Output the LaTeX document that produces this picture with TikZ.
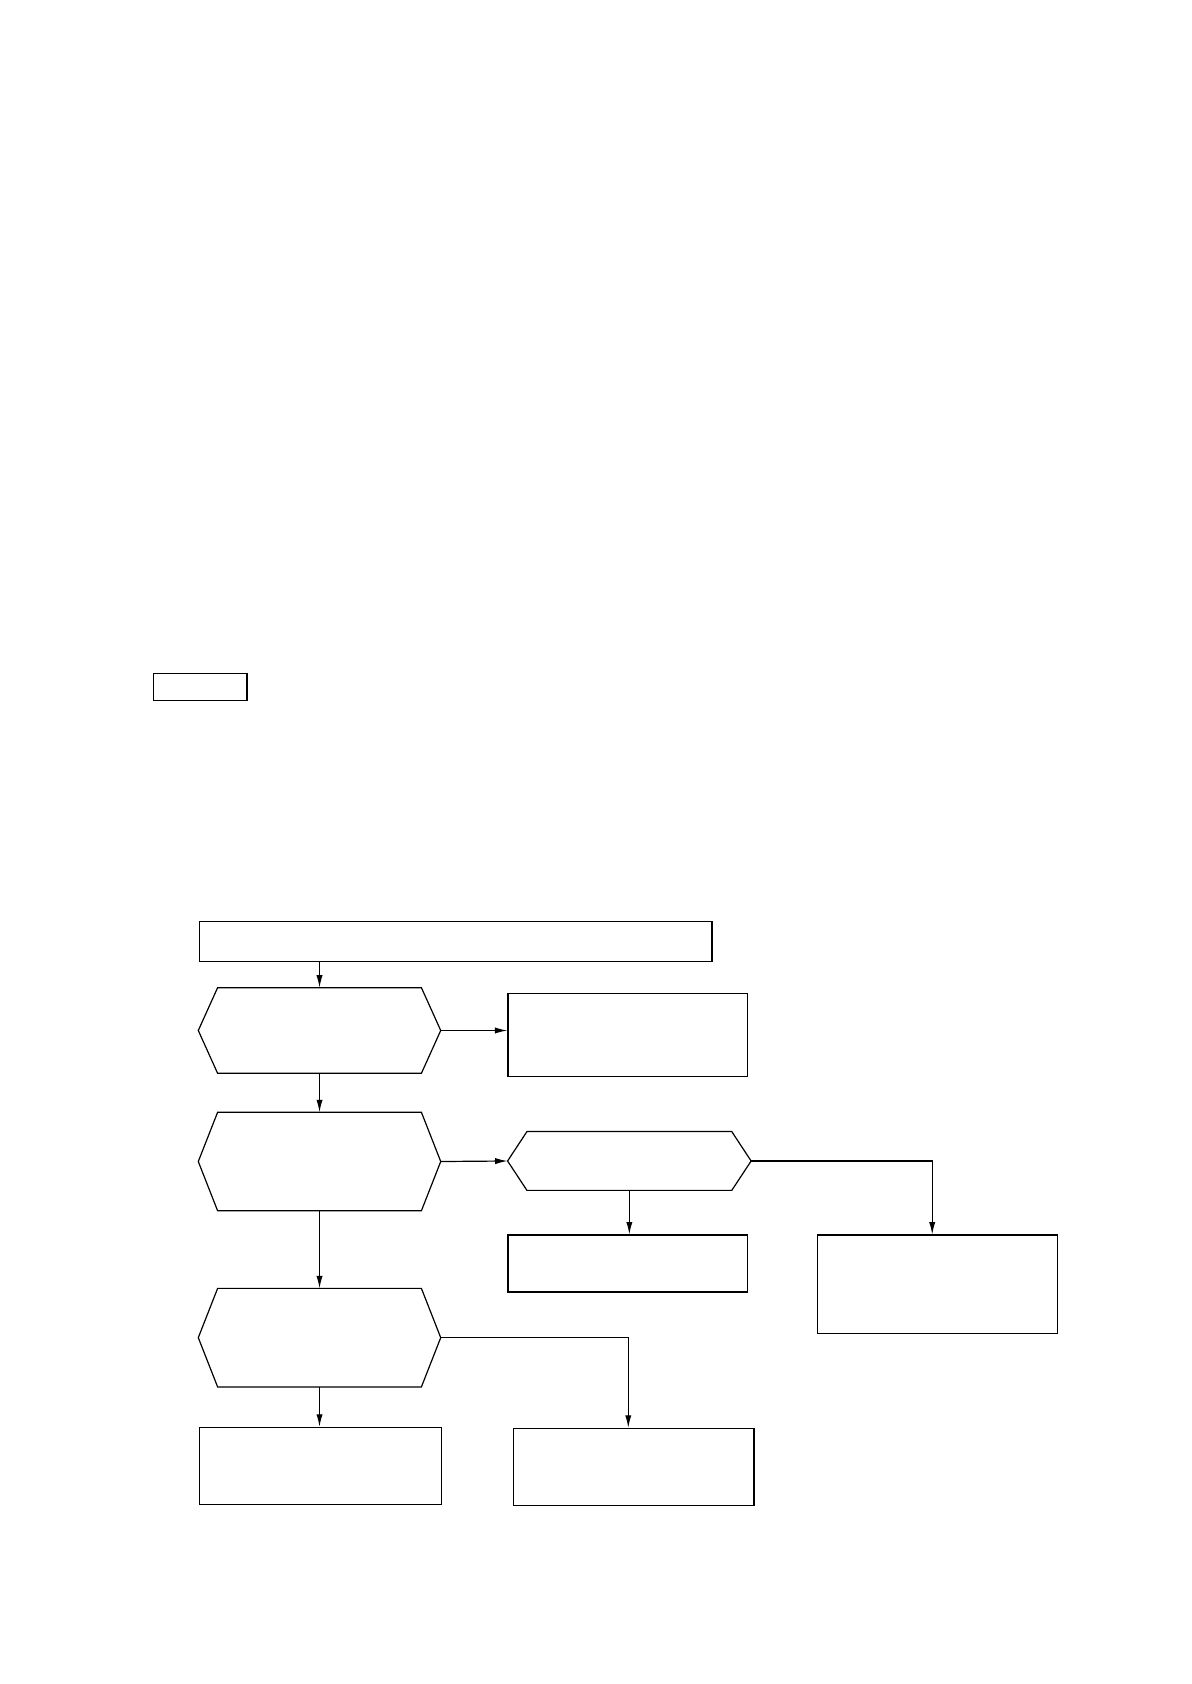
\documentclass[tikz,border=0pt]{standalone}
\usepackage{tikz}
\usetikzlibrary{positioning,arrows.meta}
\newcommand{\pxu}{0.18936mm}
\tikzset{box/.style={draw,thick,rectangle,inner sep=0pt},
         hexa/.style={rectangle,inner sep=0pt,minimum width=225*\pxu},
         line/.style={-latex}
}
\tikzstyle{arrow} = [semithick,-{Latex[length=2.2mm,width=1.1mm]}]

\begin{document}
\begin{tikzpicture}[x=\pxu,y=-\pxu,thick/.style={line width=0.6pt}]
\useasboundingbox (0,0) rectangle (1109,1568);

\node[box,minimum width=87*\pxu,minimum height=25*\pxu] (tag) at (186.5,639.5) {};
\node[box,minimum width=477*\pxu,minimum height=37*\pxu] (start) at (424.5,876.5) {};
\node[hexa,minimum height=79*\pxu] (checka) at (297.5,959.5) {};
\node[box,minimum width=223*\pxu,minimum height=77*\pxu] (resa) at (584.5,963.5) {};
\node[hexa,minimum height=91*\pxu] (checkb) at (297.5,1081.5) {};
\node[hexa,minimum width=226*\pxu,minimum height=54*\pxu] (checkc) at (586,1081) {};
\node[box,minimum width=223*\pxu,minimum height=53*\pxu] (resb) at (584.5,1176.5) {};
\node[box,minimum width=224*\pxu,minimum height=92*\pxu] (resc) at (873,1196) {};
\node[hexa,minimum height=91*\pxu] (checkd) at (297.5,1245.5) {};
\node[box,minimum width=225*\pxu,minimum height=72*\pxu] (resd) at (298.5,1365) {};
\node[box,minimum width=224*\pxu,minimum height=72*\pxu] (rese) at (590,1366) {};
\coordinate (esub) at ([xshift=-5*\pxu]rese.north);
\coordinate (csub) at ([xshift=-5*\pxu]resc.north);

% hexagon outlines
\foreach \h in {checka,checkb,checkc,checkd}
  \draw[thick] (\h.west)--([xshift=18*\pxu]\h.north west)--([xshift=-18*\pxu]\h.north east)
    --(\h.east)--([xshift=-18*\pxu]\h.south east)--([xshift=18*\pxu]\h.south west)--cycle;

\draw[arrow] (start.south -| checka.north)--(checka.north);
\draw[arrow] (checka.east)--(checka.east -| resa.west);
\draw[arrow] (checka.south)--(checkb.north);
\draw[arrow] (checkb.east)--(checkc.west);
\draw[arrow] (checkc.south)--(checkc.south |- resb.north);
\draw[arrow] (checkc.east)-|(csub);
\draw[arrow] (checkb.south)--(checkd.north);
\draw[arrow] (checkd.east)-|(esub);
\draw[arrow] (checkd.south)--(checkd.south |- resd.north);

\end{tikzpicture}
\end{document}
